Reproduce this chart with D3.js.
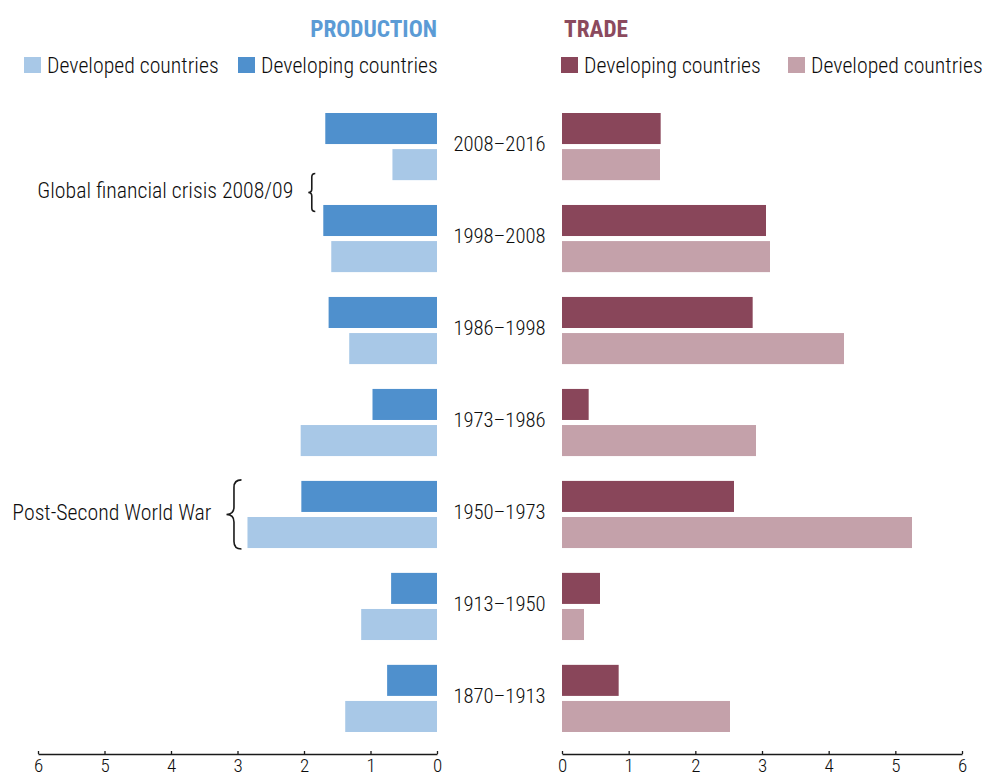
<!DOCTYPE html>
<html>
<head>
<meta charset="utf-8">
<script src="https://cdn.jsdelivr.net/npm/d3@7"></script>
<style>
  body { margin: 0; background: #fff; }
  text { font-family: "Liberation Sans Narrow", "Roboto Condensed", "DejaVu Sans Condensed", Roboto, sans-serif; fill: #0d0d0d; font-weight: 300; }
  .axis path, .axis line { stroke: #1a1a1a; stroke-width: 1.3; }
</style>
</head>
<body>
<script>
var periods = ["2008–2016", "1998–2008", "1986–1998", "1973–1986", "1950–1973", "1913–1950", "1870–1913"];
var prodDeveloping = [1.68, 1.71, 1.63, 0.97, 2.04, 0.69, 0.75];
var prodDeveloped = [0.67, 1.59, 1.32, 2.05, 2.85, 1.14, 1.38];
var tradeDeveloping = [1.48, 3.06, 2.86, 0.40, 2.58, 0.57, 0.85];
var tradeDeveloped = [1.47, 3.12, 4.23, 2.91, 5.25, 0.33, 2.52];
var tickValues = [0, 1, 2, 3, 4, 5, 6];

var colors = {
    prodDeveloped: "#a8c8e7",
    prodDeveloping: "#4f90cd",
    tradeDeveloping: "#89465a",
    tradeDeveloped: "#c4a1aa"
};

var width = 985, height = 779;

var svg = d3.select("body").append("svg")
    .attr("width", width)
    .attr("height", height);

var xProd = d3.scaleLinear().domain([6, 0]).range([38, 437]);
var xTrade = d3.scaleLinear().domain([0, 6]).range([562, 962]);

var y = d3.scaleBand()
    .domain(periods)
    .range([113, 732])
    .paddingInner(0.27);

var ySub = d3.scaleBand()
    .domain(["developing", "developed"])
    .range([0, y.bandwidth()])
    .paddingInner(0.14);

var rows = periods.map(function(p, i) {
    return {
        period: p,
        prodDeveloping: prodDeveloping[i],
        prodDeveloped: prodDeveloped[i],
        tradeDeveloping: tradeDeveloping[i],
        tradeDeveloped: tradeDeveloped[i]
    };
});

// production bars (grow to the left)
[["prodDeveloping", "developing"], ["prodDeveloped", "developed"]].forEach(function(s) {
    svg.selectAll(".bar-" + s[0])
        .data(rows)
        .enter()
        .append("rect")
        .attr("class", "bar-" + s[0])
        .attr("x", d => xProd(d[s[0]]))
        .attr("width", d => xProd(0) - xProd(d[s[0]]))
        .attr("y", d => y(d.period) + ySub(s[1]))
        .attr("height", ySub.bandwidth())
        .attr("fill", colors[s[0]]);
});

// trade bars
[["tradeDeveloping", "developing"], ["tradeDeveloped", "developed"]].forEach(function(s) {
    svg.selectAll(".bar-" + s[0])
        .data(rows)
        .enter()
        .append("rect")
        .attr("class", "bar-" + s[0])
        .attr("x", xTrade(0))
        .attr("width", d => xTrade(d[s[0]]) - xTrade(0))
        .attr("y", d => y(d.period) + ySub(s[1]))
        .attr("height", ySub.bandwidth())
        .attr("fill", colors[s[0]]);
});

// period labels in the middle
svg.selectAll(".period")
    .data(periods)
    .enter()
    .append("text")
    .attr("class", "period")
    .attr("x", 499.5)
    .attr("y", d => y(d) + y.bandwidth() / 2 - 1)
    .attr("text-anchor", "middle")
    .attr("dominant-baseline", "middle")
    .style("font-size", "20.7px")
    .text(d => d);

// axes
var axisY = 754;
svg.append("g")
    .attr("class", "axis")
    .attr("transform", "translate(0," + axisY + ")")
    .call(d3.axisBottom(xProd).tickValues(tickValues).tickFormat(d3.format("d"))
        .tickSizeInner(-3).tickSizeOuter(0).tickPadding(5));
svg.append("g")
    .attr("class", "axis")
    .attr("transform", "translate(0," + axisY + ")")
    .call(d3.axisBottom(xTrade).tickValues(tickValues).tickFormat(d3.format("d"))
        .tickSizeInner(-3).tickSizeOuter(0).tickPadding(5));
svg.selectAll(".axis text").attr("fill", "#0d0d0d").style("font-size", "19px");

// titles
svg.append("text")
    .attr("x", 437)
    .attr("y", 37)
    .attr("text-anchor", "end")
    .style("font-size", "23.3px")
    .style("font-weight", "bold")
    .style("fill", "#5b9bd5")
    .text("PRODUCTION");
svg.append("text")
    .attr("x", 564)
    .attr("y", 37)
    .style("font-size", "23.3px")
    .style("font-weight", "bold")
    .style("fill", "#8b4a5e")
    .text("TRADE");

// legends
var legendItems = [
    {x: 24, label: "Developed countries", color: colors.prodDeveloped},
    {x: 238, label: "Developing countries", color: colors.prodDeveloping},
    {x: 561, label: "Developing countries", color: colors.tradeDeveloping},
    {x: 788, label: "Developed countries", color: colors.tradeDeveloped}
];
var legend = svg.selectAll(".legend")
    .data(legendItems)
    .enter()
    .append("g")
    .attr("class", "legend")
    .attr("transform", d => "translate(" + d.x + ",57)");
legend.append("rect")
    .attr("width", 17)
    .attr("height", 16)
    .attr("fill", d => d.color);
legend.append("text")
    .attr("x", 23)
    .attr("y", 16)
    .style("font-size", "21.8px")
    .text(d => d.label);

// annotations with braces
function bracePath(x, y0, y1, w) {
    var ym = (y0 + y1) / 2, mx = x + w / 2, r = Math.min(w / 2, (y1 - y0) / 6);
    return "M" + (x + w) + "," + y0 +
        " Q" + mx + "," + y0 + " " + mx + "," + (y0 + r) +
        " L" + mx + "," + (ym - r) +
        " Q" + mx + "," + ym + " " + x + "," + ym +
        " Q" + mx + "," + ym + " " + mx + "," + (ym + r) +
        " L" + mx + "," + (y1 - r) +
        " Q" + mx + "," + y1 + " " + (x + w) + "," + y1;
}

var crisisMid = (y("2008–2016") + y.bandwidth() + y("1998–2008")) / 2;
var crisisRight = xProd(d3.max([prodDeveloping[1], prodDeveloped[0]])) - 8;
var warTop = y("1950–1973"), warBottom = y("1950–1973") + y.bandwidth();
var warRight = xProd(d3.max([prodDeveloping[4], prodDeveloped[4]])) - 6;

var annotations = [
    {label: "Global financial crisis 2008/09", y0: crisisMid - 19, y1: crisisMid + 19, right: crisisRight, w: 7},
    {label: "Post-Second World War", y0: warTop - 1, y1: warBottom + 1, right: warRight, w: 15}
];

svg.selectAll(".brace")
    .data(annotations)
    .enter()
    .append("path")
    .attr("class", "brace")
    .attr("d", d => bracePath(d.right - d.w, d.y0, d.y1, d.w))
    .attr("fill", "none")
    .attr("stroke", "#1a1a1a")
    .attr("stroke-width", 1.6);

svg.selectAll(".annot")
    .data(annotations)
    .enter()
    .append("text")
    .attr("class", "annot")
    .attr("x", d => d.right - d.w - 15)
    .attr("y", d => (d.y0 + d.y1) / 2)
    .attr("text-anchor", "end")
    .attr("dominant-baseline", "middle")
    .style("font-size", "21.8px")
    .text(d => d.label);
</script>
</body>
</html>
